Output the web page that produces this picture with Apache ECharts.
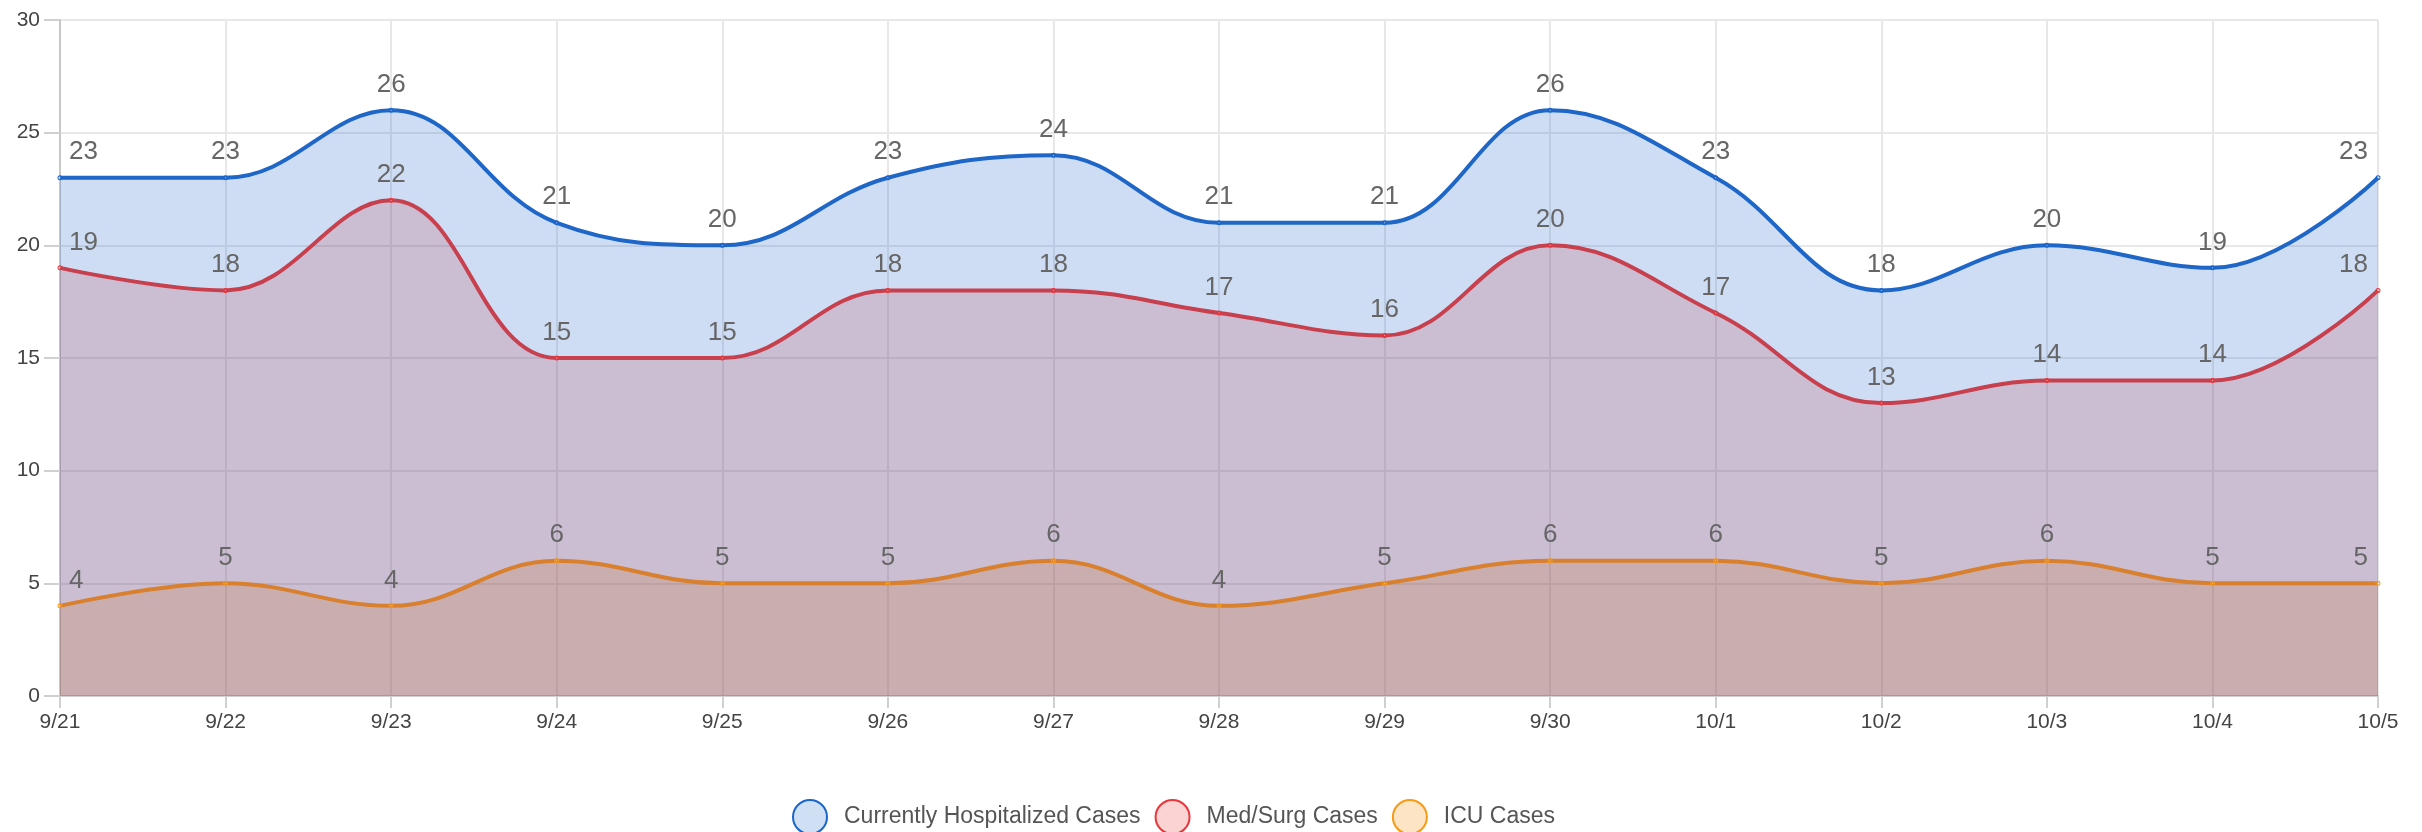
<!DOCTYPE html>
<html>
<head>
<meta charset="utf-8">
<title>Hospitalized Cases</title>
<script src="https://cdn.jsdelivr.net/npm/echarts@6/dist/echarts.min.js"></script>
<style>
  html, body { margin: 0; padding: 0; background: #fff; }
  #main { width: 2422px; height: 832px; }
</style>
</head>
<body>
<div id="main"></div>
<script>
var dates = ['9/21', '9/22', '9/23', '9/24', '9/25', '9/26', '9/27', '9/28', '9/29', '9/30', '10/1', '10/2', '10/3', '10/4', '10/5'];
var hospitalized = [23, 23, 26, 21, 20, 23, 24, 21, 21, 26, 23, 18, 20, 19, 23];
var medSurg = [19, 18, 22, 15, 15, 18, 18, 17, 16, 20, 17, 13, 14, 14, 18];
var icu = [4, 5, 4, 6, 5, 5, 6, 4, 5, 6, 6, 5, 6, 5, 5];

var FONT = '"Liberation Sans", Arial, sans-serif';

// first and last labels are pushed inside the plot like chartjs datalabels clamp
function withEdgeLabels(values) {
  return values.map(function (v, i) {
    if (i === 0) return { value: v, label: { align: 'left', offset: [9, 0] } };
    if (i === values.length - 1) return { value: v, label: { align: 'right', offset: [-10, 0] } };
    return v;
  });
}

function makeSeries(name, values, lineColor, areaColor, legendFill, legendBorder) {
  return {
    name: name,
    type: 'line',
    data: withEdgeLabels(values),
    smooth: 0.4,
    symbol: 'circle',
    symbolSize: 1,
    lineStyle: { color: lineColor, width: 4 },
    itemStyle: { color: legendFill, borderColor: legendBorder, borderWidth: 4 },
    areaStyle: { color: areaColor, opacity: 1, origin: 'start' },
    label: {
      show: true,
      position: 'top',
      distance: 10,
      color: '#666',
      fontSize: 26,
      fontFamily: FONT
    },
    emphasis: { disabled: true }
  };
}

var chart = echarts.init(document.getElementById('main'));
chart.setOption({
  animation: false,
  grid: { left: 60, right: 44, top: 20, bottom: 136 },
  legend: {
    left: 787,
    top: 794,
    icon: 'circle',
    itemWidth: 34,
    itemHeight: 34,
    itemGap: 14,
    textStyle: { color: '#555', fontSize: 23, fontFamily: FONT, padding: [0, 0, 0, 12] }
  },
  xAxis: {
    type: 'category',
    data: dates,
    boundaryGap: false,
    axisLine: { lineStyle: { color: '#d0d0d0', width: 2 } },
    axisTick: { show: true, length: 12, lineStyle: { color: '#d0d0d0', width: 2 } },
    axisLabel: { color: '#444', fontSize: 21, fontFamily: FONT, margin: 16 },
    splitLine: { show: true, lineStyle: { color: '#e8e8e8', width: 2 } }
  },
  yAxis: {
    type: 'value',
    min: 0,
    max: 30,
    interval: 5,
    axisLine: { show: true, lineStyle: { color: '#c8c8c8', width: 2 } },
    axisTick: { show: true, length: 16, lineStyle: { color: '#d0d0d0', width: 2 } },
    axisLabel: { color: '#444', fontSize: 21, fontFamily: FONT, margin: 20 },
    splitLine: { show: true, lineStyle: { color: '#e8e8e8', width: 2 } }
  },
  series: [
    makeSeries('Currently Hospitalized Cases', hospitalized, '#1e66c8', 'rgba(30,100,200,0.22)', '#cfe0f5', '#1a66cc'),
    makeSeries('Med/Surg Cases', medSurg, '#c8404e', 'rgba(190,60,75,0.2)', '#fbd3d3', '#e8363b'),
    makeSeries('ICU Cases', icu, '#d9802e', 'rgba(197,109,34,0.2)', '#fde4c4', '#f89a14')
  ]
});
</script>
</body>
</html>
